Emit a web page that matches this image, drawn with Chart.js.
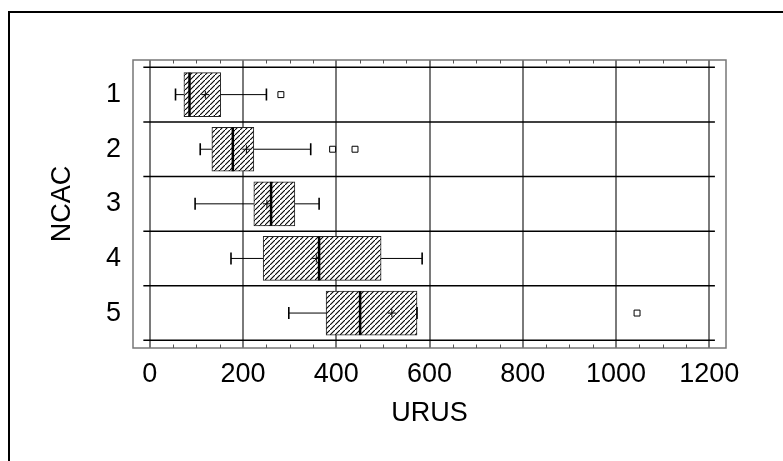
<!DOCTYPE html>
<html>
<head>
<meta charset="utf-8">
<title>URUS por NCAC</title>
<script src="https://cdn.jsdelivr.net/npm/chart.js@4.4.1/dist/chart.umd.min.js"></script>
<style>
  html, body { margin: 0; padding: 0; background: #fff; }
  #wrap { position: relative; width: 783px; height: 461px; overflow: hidden; }
  #wrap canvas { position: absolute; left: 0; top: 0; }
  /* moldura externa da figura (só topo e esquerda aparecem no recorte) */
  #frame { position: absolute; left: 8px; top: 11px; right: -10px; bottom: -10px;
           border-left: 2px solid #000; border-top: 2px solid #000; pointer-events: none; }
</style>
</head>
<body>
<div id="wrap">
  <canvas id="chart" width="783" height="461"></canvas>
  <div id="frame"></div>
</div>
<script>
// Dados
const categories   = ['1', '2', '3', '4', '5'];
const whiskerLow   = [55, 108, 97, 174, 298];
const q1Values     = [73, 133, 223, 243, 378];
const medianValues = [85, 178, 260, 363, 451];
const meanValues   = [119, 207, 251, 357, 519];
const q3Values     = [152, 223, 311, 496, 573];
const whiskerHigh  = [250, 345, 363, 584, 573];
const outlierCats   = ['1', '2', '2', '5'];
const outlierValues = [281, 392, 440, 1045];
const xTickValues     = [0, 200, 400, 600, 800, 1000, 1200];
const minorTickValues = [50, 100, 150, 250, 300, 350, 450, 500, 550, 650, 700, 750, 850, 900, 950, 1050, 1100, 1150];

const FONT = { family: "'Liberation Sans', Arial, sans-serif", size: 27 };

const catPos = (label) => categories.indexOf(label) + 1;

function makeHatch(ctx) {
  const tile = document.createElement('canvas');
  tile.width = 5;
  tile.height = 5;
  const g = tile.getContext('2d');
  g.fillStyle = '#fff';
  g.fillRect(0, 0, 5, 5);
  g.strokeStyle = '#000';
  g.lineWidth = 1.1;
  g.beginPath();
  g.moveTo(-1, 6);
  g.lineTo(6, -1);
  g.stroke();
  return ctx.createPattern(tile, 'repeat');
}

// Bigodes, medianas, separadores e moldura do painel
const boxPlotParts = {
  id: 'boxPlotParts',
  beforeDatasetsDraw(chart) {
    const { ctx, scales: { x, y } } = chart;
    ctx.save();
    ctx.strokeStyle = '#000';
    ctx.lineWidth = 1.5;
    for (let i = 0; i <= categories.length; i++) {
      const py = y.getPixelForValue(i + 0.5);
      ctx.beginPath();
      ctx.moveTo(x.getPixelForValue(-14), py);
      ctx.lineTo(x.getPixelForValue(1212), py);
      ctx.stroke();
    }
    ctx.restore();
  },
  afterDatasetsDraw(chart) {
    const { ctx, scales: { x, y } } = chart;
    const bars = chart.getDatasetMeta(0).data;
    ctx.save();
    ctx.strokeStyle = '#000';
    categories.forEach((cat, i) => {
      const py = y.getPixelForValue(catPos(cat));
      const half = bars[i] ? bars[i].height / 2 : 22;
      // linhas dos bigodes
      ctx.lineWidth = 1;
      ctx.beginPath();
      ctx.moveTo(x.getPixelForValue(whiskerLow[i]), py);
      ctx.lineTo(x.getPixelForValue(q1Values[i]), py);
      ctx.moveTo(x.getPixelForValue(q3Values[i]), py);
      ctx.lineTo(x.getPixelForValue(whiskerHigh[i]), py);
      ctx.stroke();
      // terminais
      ctx.lineWidth = 1.6;
      ctx.beginPath();
      [whiskerLow[i], whiskerHigh[i]].forEach((v) => {
        const px = x.getPixelForValue(v);
        ctx.moveTo(px, py - 6);
        ctx.lineTo(px, py + 6);
      });
      ctx.stroke();
      // mediana
      ctx.lineWidth = 2.5;
      ctx.beginPath();
      const mx = x.getPixelForValue(medianValues[i]);
      ctx.moveTo(mx, py - half);
      ctx.lineTo(mx, py + half);
      ctx.stroke();
    });
    ctx.restore();
  },
  afterDraw(chart) {
    const { ctx, chartArea: area, scales: { x } } = chart;
    ctx.save();
    ctx.strokeStyle = '#777';
    ctx.lineWidth = 1.5;
    ctx.strokeRect(area.left, area.top, area.right - area.left, area.bottom - area.top);
    // marcas menores em cima e em baixo
    ctx.strokeStyle = '#555';
    ctx.lineWidth = 1;
    ctx.beginPath();
    minorTickValues.forEach((v) => {
      const px = Math.round(x.getPixelForValue(v)) + 0.5;
      ctx.moveTo(px, area.top);
      ctx.lineTo(px, area.top + 3.5);
      ctx.moveTo(px, area.bottom);
      ctx.lineTo(px, area.bottom - 3.5);
    });
    ctx.stroke();
    ctx.restore();
  }
};

const canvas = document.getElementById('chart');
const hatch = makeHatch(canvas.getContext('2d'));

new Chart(canvas, {
  type: 'bar',
  data: {
    datasets: [{
      type: 'bar',
      indexAxis: 'y',
      data: categories.map((cat, i) => ({ y: catPos(cat), x: [q1Values[i], q3Values[i]] })),
      backgroundColor: hatch,
      borderColor: '#222',
      borderWidth: 1,
      borderSkipped: false,
      barThickness: 44,
      order: 2
    }, {
      type: 'scatter',
      data: categories.map((cat, i) => ({ x: meanValues[i], y: catPos(cat) })),
      pointStyle: 'cross',
      pointRadius: 4,
      borderColor: '#000',
      borderWidth: 1,
      order: 1
    }, {
      type: 'scatter',
      data: outlierCats.map((cat, i) => ({ x: outlierValues[i], y: catPos(cat) })),
      pointStyle: 'rect',
      pointRadius: 4.2,
      backgroundColor: '#fff',
      borderColor: '#000',
      borderWidth: 1,
      order: 1
    }]
  },
  options: {
    responsive: false,
    animation: false,
    events: [],
    layout: { padding: { top: 60, right: 57, bottom: 0, left: 0 } },
    plugins: { legend: { display: false }, tooltip: { enabled: false } },
    scales: {
      x: {
        type: 'linear',
        position: 'bottom',
        min: -36.2,
        max: 1235.8,
        offset: false,
        afterBuildTicks: (scale) => { scale.ticks = xTickValues.map((v) => ({ value: v })); },
        afterFit: (scale) => { scale.height = 113; },
        ticks: {
          autoSkip: false,
          maxRotation: 0,
          padding: 10,
          color: '#000',
          font: FONT,
          callback: (v) => String(v)
        },
        grid: { offset: false, drawTicks: false, color: '#7a7a7a', lineWidth: 2 },
        border: { display: false },
        title: { display: true, text: 'URUS', color: '#000', font: FONT, padding: { top: 0, bottom: 31 } }
      },
      y: {
        type: 'linear',
        position: 'left',
        reverse: true,
        min: 0.366,
        max: 5.64,
        offset: false,
        afterBuildTicks: (scale) => { scale.ticks = categories.map((c, i) => ({ value: i + 1 })); },
        afterFit: (scale) => { scale.width = 133; },
        ticks: {
          padding: 12,
          color: '#000',
          font: FONT,
          callback: (v) => categories[Math.round(v) - 1]
        },
        grid: { display: false, offset: false, drawTicks: false },
        border: { display: false },
        title: { display: true, text: 'NCAC', color: '#000', font: FONT, padding: { top: 46, bottom: 0 } }
      }
    }
  },
  plugins: [boxPlotParts]
});
</script>
</body>
</html>
